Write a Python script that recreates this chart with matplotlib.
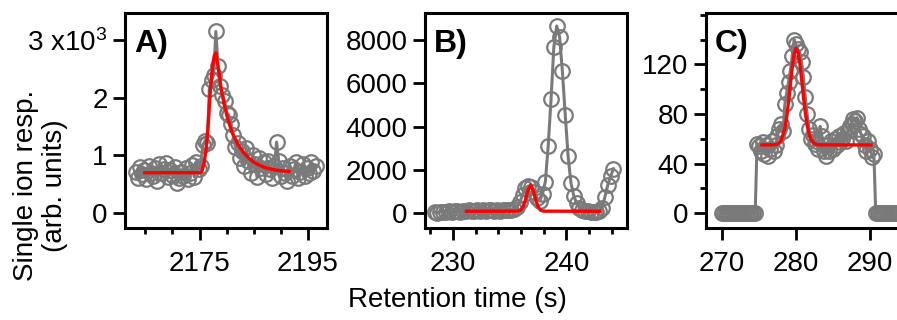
import numpy as np
import matplotlib
matplotlib.use('Agg')
import matplotlib.pyplot as plt
from matplotlib.ticker import FixedLocator, MultipleLocator

plt.rcParams['font.family'] = ['Liberation Sans', 'DejaVu Sans']
plt.rcParams['mathtext.fontset'] = 'custom'
plt.rcParams['mathtext.rm'] = 'Liberation Sans'
plt.rcParams['mathtext.default'] = 'regular'

# ---- panel A: measured points (start time, step) and fit ----
t0_a, dt_a = 2163.2, 0.4
resp_a = [720, 610, 800, 680, 750, 590, 820, 700, 640, 780,
          560, 850, 690, 760, 870, 620, 740, 660, 800, 520,
          600, 720, 650, 780, 590, 700, 840, 630, 890, 760,
          820, 1180, 1250, 1210, 2150, 2300, 2400, 3150, 2550, 2200,
          2050, 1950, 1740, 1700, 1550, 1350, 1150, 1220, 950, 1080,
          820, 1120, 900, 700, 1000, 850, 620, 950, 780, 880,
          680, 900, 760, 600, 820, 1230, 900, 640, 780, 700,
          560, 820, 650, 760, 880, 600, 720, 850, 640, 780,
          690, 880, 730, 820]
fit_t_a = [2164.9, 2175.0, 2175.4, 2175.8, 2176.2, 2176.6, 2177.0, 2177.4,
           2177.7, 2178.0, 2178.5, 2179.0, 2179.5, 2180.0, 2180.5, 2181.0,
           2181.5, 2182.0, 2183.0, 2184.0, 2185.0, 2186.0, 2187.0, 2188.0,
           2189.0, 2190.0, 2191.5]
fit_a = [700, 700, 720, 850, 1100, 1550, 2150, 2550,
         2730, 2780, 2480, 2150, 1900, 1700, 1540, 1400,
         1300, 1200, 1060, 960, 880, 830, 790, 765,
         745, 733, 720]

# ---- panel B ----
t0_b, dt_b = 228.4, 0.25
resp_b = [40, 20, 60, 30, 50, 80, 40, 70, 90, 60,
          100, 80, 120, 90, 110, 140, 100, 130, 90, 120,
          150, 110, 130, 100, 140, 120, 160, 130, 180, 280,
          500, 850, 1150, 1250, 1180, 950, 700, 550, 900, 1450,
          3100, 5250, 7700, 8650, 8150, 6550, 4550, 2650, 1400, 800,
          450, 250, 150, 100, 70, 60, 50, 60, 90, 250,
          750, 1300, 1700, 2050]
fit_t_b = [231.2, 235.6, 235.8, 236.0, 236.2, 236.4, 236.6, 236.85,
           237.1, 237.3, 237.5, 237.7, 237.9, 238.1, 242.9]
fit_b = [80, 85, 95, 145, 300, 610, 1020, 1290,
         1020, 610, 300, 145, 95, 85, 80]

# ---- panel C ----
t0_c, dt_c = 270.0, 0.25
resp_c = [0, 0, 0, 0, 0, 0, 0, 0, 0, 0,
          0, 0, 0, 0, 0, 0, 0, 0, 0,
          56, 54, 50, 57, 48, 55, 46, 52, 58, 50,
          55, 62, 68, 72, 66, 88, 97, 106, 115, 127,
          140, 136, 132, 130, 122, 110, 94, 80, 68, 60,
          63, 56, 58, 52, 70, 62, 50, 46, 55, 50,
          58, 52, 60, 55, 62, 57, 60, 65, 58, 66,
          70, 72, 76, 74, 77, 68, 64, 62, 55, 50,
          58, 52, 45, 48,
          0, 0, 0, 0, 0, 0, 0, 0, 0, 0, 0, 0, 0, 0]
fit_t_c = [275.4, 277.0, 277.5, 278.0, 278.5, 278.75, 279.0, 279.25, 279.5,
           279.75, 280.0, 280.25, 280.5, 280.75, 281.0, 281.25, 281.5,
           281.75, 282.0, 282.5, 283.0, 290.1]
fit_c = [55, 55.1, 55.6, 58.5, 68.4, 77.6, 89.9, 104, 117.8,
         128.3, 133, 130.5, 121.6, 108.6, 94.3, 81.3, 71,
         63.9, 59.5, 55.9, 55.1, 55]

panels = [
    dict(t0=t0_a, dt=dt_a, y=resp_a, ft=fit_t_a, fy=fit_a, label='A)',
         xlim=(2161.24, 2198.5), ylim=(-260, 3470),
         xmaj=[2175, 2195], xmin=5, ymaj=[0, 1000, 2000, 3000], ymin=None,
         yticklabels=['0', '1', '2', '3 x10$^3$']),
    dict(t0=t0_b, dt=dt_b, y=resp_b, ft=fit_t_b, fy=fit_b, label='B)',
         xlim=(227.55, 245.34), ylim=(-694, 9250),
         xmaj=[230, 240], xmin=2, ymaj=[0, 2000, 4000, 6000, 8000], ymin=None,
         yticklabels=None),
    dict(t0=t0_c, dt=dt_c, y=resp_c, ft=fit_t_c, fy=fit_c, label='C)',
         xlim=(267.87, 295.1), ylim=(-12, 161.4),
         xmaj=[270, 280, 290], xmin=None, ymaj=[0, 40, 80, 120], ymin=20,
         yticklabels=None),
]

W, H = 897, 320
fig = plt.figure(figsize=(W / 100, H / 100), dpi=100)
lefts = [125, 425, 706]
gray = '#7a7a7a'

for left, p in zip(lefts, panels):
    ax = fig.add_axes([left / W, 1 - 228 / H, 202 / W, 215 / H])
    t = p['t0'] + p['dt'] * np.arange(len(p['y']))
    ax.plot(t, p['y'], '-o', color=gray, lw=2.2, ms=10.5, mfc='none',
            mec=gray, mew=1.6, zorder=2)
    ax.plot(p['ft'], p['fy'], '-', color='red', lw=2.4, zorder=3)
    ax.set_xlim(*p['xlim'])
    ax.set_ylim(*p['ylim'])
    ax.xaxis.set_major_locator(FixedLocator(p['xmaj']))
    if p['xmin']:
        ax.xaxis.set_minor_locator(MultipleLocator(p['xmin']))
    ax.yaxis.set_major_locator(FixedLocator(p['ymaj']))
    if p['ymin']:
        ax.yaxis.set_minor_locator(MultipleLocator(p['ymin']))
    if p['yticklabels']:
        ax.set_yticklabels(p['yticklabels'])
    for s in ax.spines.values():
        s.set_linewidth(2.2)
    ax.tick_params(which='major', direction='out', length=8.5, width=2.0,
                   labelsize=20)
    ax.tick_params(which='minor', direction='out', length=4.3, width=2.0)
    ax.tick_params(axis='x', which='major', pad=8)
    ax.tick_params(axis='y', which='major', pad=4)
    ax.text(0.044, 0.819, p['label'], transform=ax.transAxes,
            fontsize=23, fontweight='bold', ha='left', va='baseline')

fig.text(0.045, 0.42, 'Single ion resp.\n(arb. units)', rotation=90,
         ha='center', va='center', multialignment='center', fontsize=20,
         linespacing=1.15)
fig.text(0.51, 0.041, 'Retention time (s)', ha='center', va='baseline',
         fontsize=20)

fig.savefig('out.png', dpi=100)
